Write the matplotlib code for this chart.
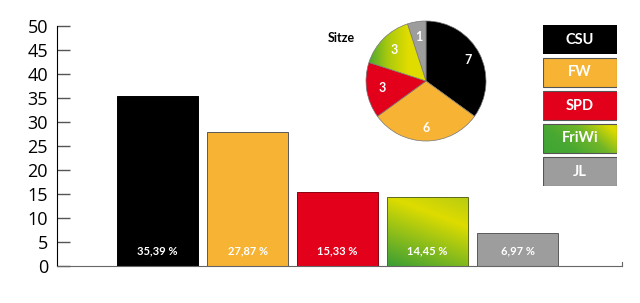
import numpy as np
import matplotlib
matplotlib.use("Agg")
import matplotlib.pyplot as plt
from matplotlib.colors import LinearSegmentedColormap
from matplotlib.patches import Rectangle

# data
parties = ["CSU", "FW", "SPD", "FriWi", "JL"]
votes = [35.39, 27.87, 15.33, 14.45, 6.97]
seats = [7, 6, 3, 3, 1]
colors = ["#000000", "#F7B334", "#E2001A", None, "#9D9D9D"]
yticks = [0, 5, 10, 15, 20, 25, 30, 35, 40, 45, 50]

friwi_cmap = LinearSegmentedColormap.from_list(
    "friwi", ["#3A9E35", "#DEDC00", "#86B62A"])

fig = plt.figure(figsize=(6.4, 3.03), dpi=100)

# bar chart
ax = fig.add_axes([57/640, 37/303, 565/640, 240/303])
x = np.arange(len(parties))
bars = ax.bar(x, votes, width=0.9, color=[c if c else "none" for c in colors],
              edgecolor="#5a5a5a", linewidth=0.7)
bars[0].set_edgecolor("#000000")
bars[2].set_edgecolor("#8a0010")

# gradient fill for FriWi bar
b = bars[3]
bx, by, bw, bh = b.get_x(), 0, b.get_width(), b.get_height()
u, v = np.meshgrid(np.linspace(0, 1, 100), np.linspace(0, 1, 100))
grad = 0.22 * u + 0.5 * v
img = ax.imshow(grad, cmap=friwi_cmap, vmin=0, vmax=1, origin="lower",
                extent=[bx, bx + bw, by, by + bh], aspect="auto", zorder=1.5)
img.set_clip_path(b)
b.set_zorder(2)
b.set_edgecolor("#5a6a20")

for xi, val in zip(x, votes):
    ax.text(xi, 3.1, f"{val:.2f} %".replace(".", ","), color="white",
            ha="center", va="center", fontsize=8, fontfamily="Lato",
            fontweight="bold", zorder=3)

ax.set_xlim(-1.117, 5.161)
ax.set_ylim(0, 50)
ax.set_yticks(yticks)
ax.set_yticklabels([str(t) for t in yticks], fontfamily="Open Sans", fontsize=13)
ax.tick_params(axis="y", direction="in", length=9.5, width=1, color="#555555",
               pad=6.5)
ax.set_xticks([])
ax.spines["top"].set_visible(False)
ax.spines["right"].set_bounds(0, 0.8)
ax.spines["right"].set_color("#666666")
ax.spines["bottom"].set_color("#666666")
ax.spines["left"].set_color("#000000")
ax.set_facecolor("none")

# pie chart of seats
pax = fig.add_axes([366/640, 162/303, 120/640, 120/303])
wedges, _ = pax.pie(seats, colors=[c if c else "#3A9E35" for c in colors],
                    startangle=90, counterclock=False,
                    wedgeprops=dict(edgecolor="#777777", linewidth=0.5))
pw = wedges[3]
pu = np.linspace(0, 1, 100)[None, :].repeat(10, axis=0)
pimg = pax.imshow(pu, cmap=LinearSegmentedColormap.from_list(
    "pfw", ["#3FA535", "#A7C80E", "#E0DC00", "#E0DC00"]),
    extent=[-1, 0.05, -0.2, 1.05], aspect="auto", zorder=1.5)
pimg.set_clip_path(pw)
pw.set_facecolor("none")
pw.set_zorder(2)

total = sum(seats)
ang = 90.0
for w, s in zip(wedges, seats):
    mid = np.deg2rad(ang - 360 * s / total / 2)
    ang -= 360 * s / total
    r = 0.78 if s > 3 else 0.74
    pax.text(r * np.cos(mid), r * np.sin(mid), str(s), color="white",
             ha="center", va="center", fontsize=9, fontfamily="Lato",
             fontweight="bold", zorder=3)
pax.set_xlim(-1, 1)
pax.set_ylim(-1, 1)
pax.set_aspect("equal")
fig.text(341/640, 1 - 38/303, "Sitze", fontsize=9, fontfamily="Lato",
         fontweight="bold", ha="center", va="center")

# legend boxes
lax = fig.add_axes([543/640, 117/303, 74/640, 161/303])
lax.set_xlim(0, 1)
lax.set_ylim(0, 161)
lax.axis("off")
for i, (name, c) in enumerate(zip(parties, colors)):
    y0 = 161 - i * 33 - 29
    rect = Rectangle((0, y0), 1, 29, facecolor=c if c else "none",
                     edgecolor="#555555" if i else "none", linewidth=0.8,
                     zorder=2)
    lax.add_patch(rect)
    if c is None:
        lu, lv = np.meshgrid(np.linspace(0, 1, 100), np.linspace(0, 1, 100))
        lg = np.clip(0.75 * lu + 0.35 * lv, 0, 1)
        limg = lax.imshow(lg, cmap=LinearSegmentedColormap.from_list(
            "lfw", ["#3FA535", "#48A832", "#6FB528", "#DCDA00"]),
            vmin=0, vmax=1, origin="lower", extent=[0, 1, y0, y0 + 29],
            aspect="auto", zorder=1.5)
        limg.set_clip_path(rect)
    lax.text(0.5, y0 + 14.5, name, color="white", ha="center", va="center",
             fontsize=10.5, fontfamily="Lato", fontweight="bold", zorder=3)

fig.savefig("out.png", dpi=100)
